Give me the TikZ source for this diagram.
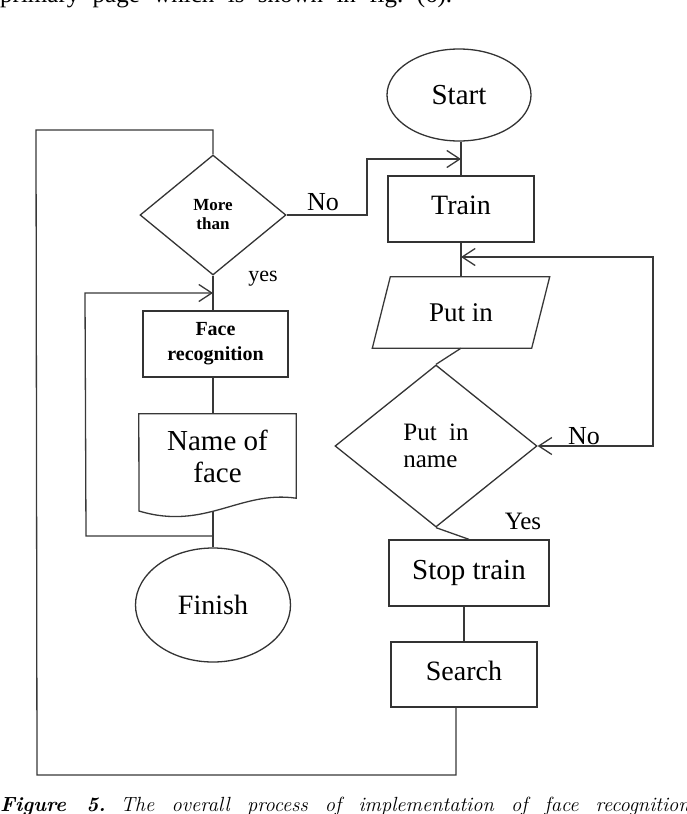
\documentclass[tikz,border=0pt]{standalone}
\usepackage{fontspec}
\newfontfamily\cam{Liberation Serif}
\usetikzlibrary{shapes.geometric,arrows.meta}
\newcommand\fsz[2]{\fontsize{#1}{#2}\selectfont}
\begin{document}
\frenchspacing
\begin{tikzpicture}[x=1pt,y=-1pt,
  ln/.style={draw=black!78,line width=1.3pt},
  tip/.tip={Straight Barb[length=13pt,width=17pt,line width=1.3pt]},
  arr/.style={-tip},
  boxnode/.style={rectangle,draw=black!80,line width=1.3pt,inner sep=0pt},
  ellnode/.style={ellipse,draw=black!80,line width=1.3pt,inner sep=0pt},
  dianode/.style={diamond,draw=black!80,line width=1.3pt,inner sep=0pt},
  lbl/.style={inner sep=0pt}]
\useasboundingbox (0,0) rectangle (686,814);
\clip (0,0) rectangle (686,814);

% surrounding page text (cut off by the crop)
\node[anchor=base west,inner sep=0pt] (toptext) at (0,2)
  {\cam\fsz{25}{27}\makebox[452pt][s]{primary page which is shown in fig. (6).}};
\node[anchor=base west,inner sep=0pt] (caption) at (0,811)
  {\fsz{20.5}{24}\makebox[690pt][s]{\textbf{\textit{Figure 5.}} \textit{The overall process of implementation of face recognition}}};

% right column
\node[ellnode,minimum width=144,minimum height=92,font=\cam\fsz{29}{32}] (start) at (459,95) {Start};
\node[boxnode,minimum width=146,minimum height=66,font=\cam\fsz{28}{30}] (train) at (461,209) {\raisebox{7pt}{Train}};
\node[lbl,minimum width=159,minimum height=71,font=\cam\fsz{27}{30}] (putin) at (461,312.5) {Put in};
\draw[ln] ([xshift=9pt]putin.north west) -- ([xshift=9pt]putin.north east)
  -- ([xshift=-9pt]putin.south east) -- ([xshift=-9pt]putin.south west) -- cycle;
\node[dianode,minimum width=202,minimum height=162,align=left,font=\cam\fsz{25}{27}] (pname) at (436,446)
  {Put~ in\\name};
\node[boxnode,minimum width=160,minimum height=66,font=\cam\fsz{29}{32}] (stop) at (469,573) {\raisebox{7pt}{Stop train}};
\node[boxnode,minimum width=146,minimum height=65,font=\cam\fsz{28}{30}] (search) at (464,674.5) {\raisebox{7pt}{Search}};

% left column
\node[dianode,minimum width=146,minimum height=120,align=center,font=\cam\bfseries\fsz{17}{19}] (more) at (213,215)
  {More\\than};
\node[boxnode,minimum width=145,minimum height=66,align=center,font=\cam\bfseries\fsz{20}{25}] (face) at (215.5,344)
  {Face\\recognition};
\node[lbl,minimum width=157,minimum height=84,align=center,font=\cam\fsz{29}{32}] (namedoc) at (217.5,456)
  {Name of\\face};
\draw[ln] (namedoc.north west) -- (namedoc.north east) -- (namedoc.south east)
  .. controls (240,490) and (205,531) .. (139,511) -- cycle;
\node[ellnode,minimum width=155,minimum height=114,font=\cam\fsz{28}{30}] (finish) at (213,605) {Finish};

% coordinates for bends
\coordinate (nojog) at (367,159);
\coordinate (rc) at (653,257);
\coordinate (bl) at (37,775);
\coordinate (tl) at (36,130);
\coordinate (lt) at (85,293);
\coordinate (lb) at (86,536);
\coordinate (docb) at (213,511);

% connectors right column
\draw[ln] (start.south -| train.north) -- (train.north);
\draw[ln] (train) -- (putin);
\draw[ln] (putin.south) -- (pname.north);
\draw[ln] (pname.south) -- (stop.north);
\draw[ln] (search.north) -- (search.north |- stop.south);
\draw[ln,tip-tip] (pname.east) -| (rc) -- (rc -| train.south);

% big loop from Search back to "More than"
\draw[ln] ([xshift=-8pt]search.south) |- (bl) -- (tl) -| (more.north);

% No branch to Train
\draw[ln,arr] (more.east) -| (nojog) -- (nojog -| train.north);

% yes branch
\draw[ln] (more.south) -- (more.south |- face.north);
\draw[ln] (face.south -| more.south) -- (namedoc.north -| more.south);
\draw[ln] (docb) -- (finish.north);
\draw[ln,arr] (lb -| docb) -- (lb) -- (lt) -- (lt -| more.south);

% labels
\node[lbl,font=\cam\fsz{26}{28}] (nol) at (323,202) {No};
\node[lbl,font=\cam\fsz{22}{24}] (yesl) at (263,279) {yes};
\node[lbl,font=\cam\fsz{26}{28}] (nor) at (584,436) {No};
\node[lbl,font=\cam\fsz{25}{27}] (yesr) at (523,521) {Yes};
\end{tikzpicture}
\end{document}
